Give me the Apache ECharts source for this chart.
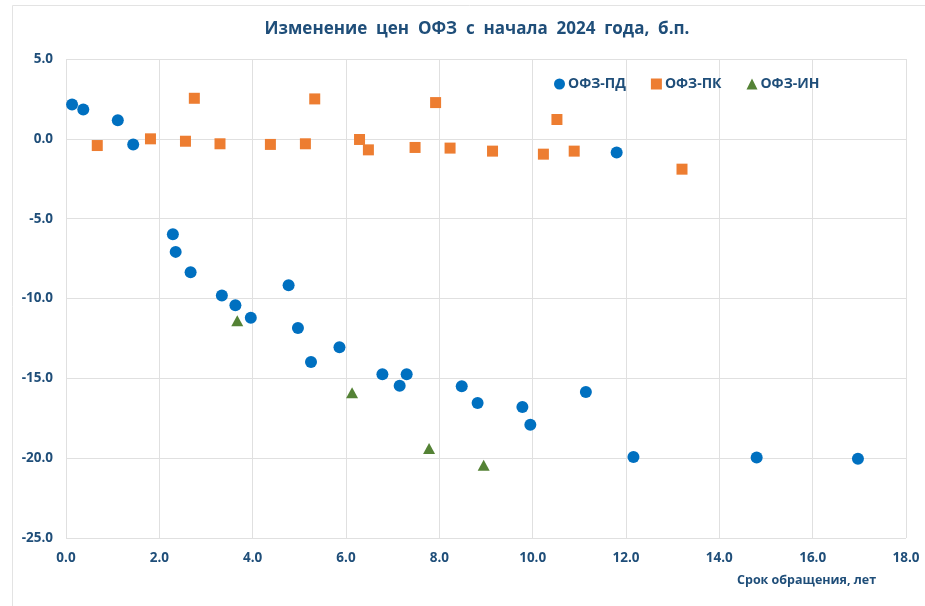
<!DOCTYPE html>
<html><head><meta charset="utf-8">
<script src="https://cdn.jsdelivr.net/npm/echarts@6/dist/echarts.min.js"></script>
<style>html,body{margin:0;padding:0;background:#fff}#c{width:925px;height:606px}</style>
</head><body><div id="c"></div>
<script>
const titleText = 'Изменение  цен  ОФЗ  с  начала  2024  года,  б.п.';
const xAxisName = 'Срок обращения, лет';
const seriesNames = ['ОФЗ-ПД', 'ОФЗ-ПК', 'ОФЗ-ИН'];
const pdX = [0.13,0.37,1.11,1.44,2.29,2.35,2.67,3.34,3.63,3.96,4.77,4.97,5.25,5.86,6.78,7.15,7.30,8.48,8.82,9.78,9.95,11.14,11.80,12.16,14.80,16.97];
const pdY = [2.15,1.83,1.17,-0.35,-5.98,-7.08,-8.35,-9.81,-10.42,-11.21,-9.17,-11.85,-13.98,-13.06,-14.75,-15.46,-14.75,-15.50,-16.55,-16.79,-17.90,-15.85,-0.85,-19.92,-19.96,-20.04];
const pkX = [0.67,1.81,2.56,2.75,3.30,4.38,5.13,5.33,6.29,6.48,7.48,7.92,8.23,9.14,10.23,10.52,10.89,13.20];
const pkY = [-0.42,0.0,-0.15,2.54,-0.31,-0.35,-0.31,2.50,-0.04,-0.69,-0.54,2.27,-0.58,-0.77,-0.96,1.21,-0.77,-1.90];
const inX = [3.67,6.13,7.78,8.95];
const inY = [-11.4,-15.9,-19.4,-20.45];
const xTicks = {min:0, max:18, interval:2};
const yTicks = {min:-25, max:5, interval:5};

const pair = (xs, ys) => xs.map((x, i) => [x, ys[i]]);
const textColor = '#1F4E79';
const font = 'Open Sans';
const chart = echarts.init(document.getElementById('c'));
chart.setOption({
  animation: false,
  title: {text: titleText, left: 472, textAlign: 'center', top: 16,
    textStyle: {fontFamily: font, fontWeight: 'bold', fontSize: 17, color: textColor}},
  legend: {data: seriesNames, left: 549, top: 72, itemWidth: 11, itemHeight: 11, itemGap: 25,
    textStyle: {fontFamily: font, fontWeight: 'bold', fontSize: 14, color: textColor, padding: [0,0,0,-2]}},
  grid: {left: 66, right: 19, top: 59, bottom: 68, containLabel: false},
  xAxis: {type: 'value', min: xTicks.min, max: xTicks.max, interval: xTicks.interval,
    axisLine: {show: false}, axisTick: {show: false},
    axisLabel: {formatter: v => v.toFixed(1), fontFamily: font, fontWeight: 'bold', fontSize: 13.5, color: textColor, margin: 13},
    splitLine: {show: true, lineStyle: {color: '#e0e0e0', width: 1}}},
  yAxis: {type: 'value', min: yTicks.min, max: yTicks.max, interval: yTicks.interval,
    axisLine: {show: false}, axisTick: {show: false},
    axisLabel: {formatter: v => v.toFixed(1), fontFamily: font, fontWeight: 'bold', fontSize: 13.5, color: textColor, margin: 13},
    splitLine: {show: true, lineStyle: {color: '#e0e0e0', width: 1}}},
  graphic: [
    {type: 'rect', shape: {x: 12.5, y: 5.5, width: 940, height: 640}, style: {fill: 'none', stroke: '#e3e3e3', lineWidth: 1}, silent: true},
    {type: 'text', left: 737, top: 574, style: {text: xAxisName, fontFamily: font, fontWeight: 'bold', fontSize: 12.5, fill: textColor}}
  ],
  series: [
    {name: seriesNames[0], type: 'scatter', symbol: 'circle', symbolSize: 12, data: pair(pdX, pdY), itemStyle: {color: '#0070C0', opacity: 1}},
    {name: seriesNames[1], type: 'scatter', symbol: 'rect', symbolSize: 11, data: pair(pkX, pkY), itemStyle: {color: '#ED7D31', opacity: 1}},
    {name: seriesNames[2], type: 'scatter', symbol: 'triangle', symbolSize: [12, 11], data: pair(inX, inY), itemStyle: {color: '#548235', opacity: 1}}
  ]
});
</script></body></html>
